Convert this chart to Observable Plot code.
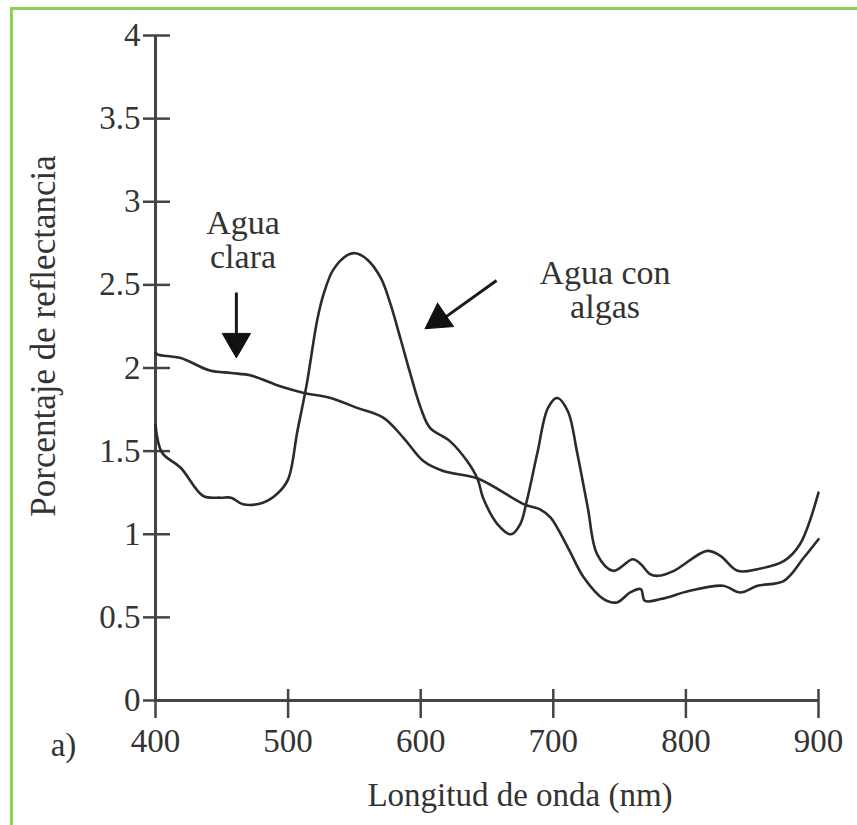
<!DOCTYPE html>
<html>
<head>
<meta charset="utf-8">
<script src="https://cdn.jsdelivr.net/npm/d3@7"></script>
<script src="https://cdn.jsdelivr.net/npm/@observablehq/plot@0.6"></script>
<style>
  html, body { margin: 0; padding: 0; background: #fff; overflow: hidden; }
  #wrap { position: relative; width: 857px; height: 825px; }
  #frame { position: absolute; left: 10px; top: 7px; width: 2000px; height: 2000px;
           border-left: 3px solid #8dd250; border-top: 3px solid #8dd250; pointer-events: none; }
</style>
</head>
<body>
<div id="wrap"><div id="frame"></div></div>
<script>
// Agua con algas
const nmAlgas = [400, 405, 419, 436, 449, 457, 466, 481, 492, 500, 507, 514, 522, 527, 534, 545, 551, 560, 570, 577, 585, 592, 600, 607, 622, 635, 643, 647, 658, 668, 675, 680, 688, 696, 703, 711, 718, 726, 733, 745, 760, 766, 773, 779, 791, 816, 826, 839, 854, 874, 886, 900];
const refAlgas = [1.66, 1.49, 1.40, 1.23, 1.22, 1.22, 1.18, 1.19, 1.245, 1.33, 1.62, 1.90, 2.29, 2.45, 2.59, 2.68, 2.69, 2.65, 2.54, 2.39, 2.17, 1.97, 1.76, 1.64, 1.56, 1.44, 1.33, 1.22, 1.06, 1.00, 1.06, 1.20, 1.49, 1.76, 1.82, 1.74, 1.49, 1.16, 0.88, 0.78, 0.85, 0.82, 0.76, 0.75, 0.78, 0.90, 0.87, 0.78, 0.79, 0.84, 0.94, 1.25];
// Agua clara
const nmClara = [400, 402, 419, 441, 457, 472, 494, 512, 532, 552, 572, 587, 602, 617, 643, 678, 690, 698, 711, 723, 738, 748, 758, 766, 769, 781, 803, 828, 841, 854, 874, 889, 900];
const refClara = [2.09, 2.08, 2.06, 1.985, 1.97, 1.955, 1.89, 1.85, 1.82, 1.76, 1.70, 1.58, 1.44, 1.38, 1.335, 1.18, 1.15, 1.10, 0.92, 0.74, 0.61, 0.59, 0.65, 0.67, 0.60, 0.61, 0.66, 0.69, 0.65, 0.69, 0.72, 0.86, 0.97];

const xTicks = [400, 500, 600, 700, 800, 900];
const yTicks = [0, 0.5, 1, 1.5, 2, 2.5, 3, 3.5, 4];

const labelClara = ["Agua", "clara"];
const labelAlgas = ["Agua con", "algas"];
const xTitle = "Longitud de onda (nm)";
const yTitle = "Porcentaje de reflectancia";
const panel = "a)";

// annotation anchors (data coordinates)
const notes = [
  {text: labelClara.join("\n"), x: 466, y: 2.77},
  {text: labelAlgas.join("\n"), x: 739, y: 2.47}
];
const arrows = [
  {x1: 461, y1: 2.454, x2: 461, y2: 2.17, hx: 461, hy: 2.159, rot: 180},
  {x1: 657.2, y1: 2.526, x2: 615, y2: 2.285, hx: 613.6, hy: 2.292, rot: 236}
];

const algas = nmAlgas.map((x, i) => ({x, y: refAlgas[i]}));
const clara = nmClara.map((x, i) => ({x, y: refClara[i]}));

const ink = "#333";

const chart = Plot.plot({
  width: 857,
  height: 825,
  marginLeft: 155,
  marginRight: 39,
  marginTop: 35,
  marginBottom: 125,
  style: {fontFamily: "'Liberation Serif', 'Times New Roman', serif", fontSize: "33px", color: ink, background: "transparent", overflow: "visible"},
  x: {domain: [400, 900]},
  y: {domain: [0, 4]},
  marks: [
    Plot.ruleX([400], {stroke: "#444", strokeWidth: 3}),
    Plot.ruleY([0], {stroke: "#444", strokeWidth: 3}),
    Plot.axisY({ticks: yTicks, tickFormat: d => String(d), tickSize: 27, dx: 15, tickPadding: 3, stroke: "#444", strokeWidth: 2.5, fill: ink, fontSize: 33, label: null}),
    Plot.axisX({ticks: xTicks, tickFormat: d => String(d), tickSize: 29, dy: -11, tickPadding: 10, stroke: "#444", strokeWidth: 2.5, fill: ink, fontSize: 33, label: null}),
    Plot.line(clara, {x: "x", y: "y", stroke: "#2b2b2b", strokeWidth: 2.6, curve: "catmull-rom"}),
    Plot.line(algas, {x: "x", y: "y", stroke: "#2b2b2b", strokeWidth: 2.6, curve: "catmull-rom"}),
    Plot.text(notes, {x: "x", y: "y", text: "text", fontSize: 34, lineHeight: 1.0, fill: ink, lineAnchor: "middle"}),
    Plot.link(arrows, {x1: "x1", y1: "y1", x2: "x2", y2: "y2", stroke: "#1a1a1a", strokeWidth: 3}),
    Plot.dot(arrows, {x: "hx", y: "hy", symbol: "triangle", r: 10.5, fill: "#111", stroke: "#111", strokeWidth: 1, rotate: "rot"}),
    Plot.text([yTitle], {frameAnchor: "left", textAnchor: "middle", lineAnchor: "middle", rotate: -90, dx: -112, dy: -32, fontSize: 35, fill: ink}),
    Plot.text([xTitle], {frameAnchor: "bottom", textAnchor: "middle", lineAnchor: "middle", dx: 33, dy: 95, fontSize: 33, fill: ink}),
    Plot.text([panel], {frameAnchor: "bottom-left", textAnchor: "middle", lineAnchor: "middle", dx: -92, dy: 45, fontSize: 33, fill: ink})
  ]
});
document.getElementById("wrap").prepend(chart);
</script>
</body>
</html>
